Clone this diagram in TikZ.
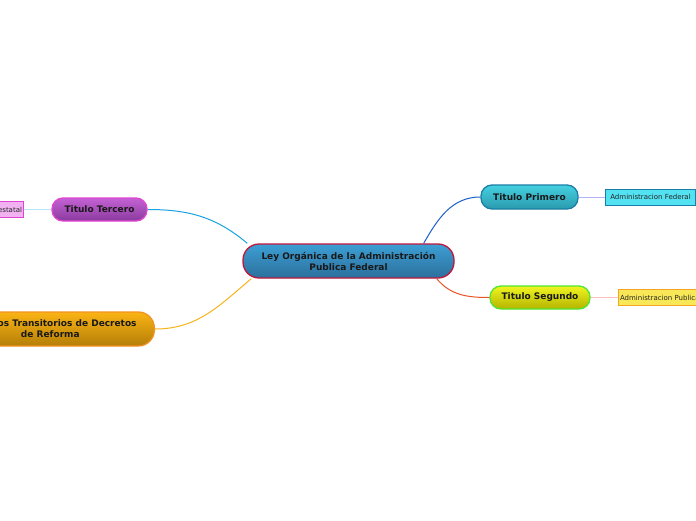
\documentclass[tikz,border=0pt]{standalone}
\usepackage{fontspec}
\setmainfont{DejaVu Sans}
\usepackage{xcolor}
\usetikzlibrary{calc}

% colores del mapa
\definecolor{rojoBorde}{HTML}{C0163C}
\definecolor{azulArriba}{HTML}{3C9FD4}
\definecolor{azulAbajo}{HTML}{2C6F9C}
\definecolor{cianArriba}{HTML}{45D0E0}
\definecolor{cianAbajo}{HTML}{2A9AAE}
\definecolor{cianBorde}{HTML}{1A7FA8}
\definecolor{cianHoja}{HTML}{52E2F2}
\definecolor{amaArriba}{HTML}{F0F420}
\definecolor{amaAbajo}{HTML}{B4B400}
\definecolor{verdeBorde}{HTML}{4FE632}
\definecolor{amaHoja}{HTML}{F8E858}
\definecolor{naranjaBorde}{HTML}{F5A524}
\definecolor{moradoArriba}{HTML}{C462D4}
\definecolor{moradoAbajo}{HTML}{8A3A9E}
\definecolor{magentaBorde}{HTML}{E244D2}
\definecolor{rosaHoja}{HTML}{F2B2F2}
\definecolor{oroArriba}{HTML}{FAB414}
\definecolor{oroAbajo}{HTML}{B47E08}
\definecolor{oroBorde}{HTML}{F39222}
% colores de las ramas
\definecolor{ramaAzul}{HTML}{1A5FC8}
\definecolor{ramaRoja}{HTML}{E8542A}
\definecolor{ramaCeleste}{HTML}{1AA2E0}
\definecolor{ramaOro}{HTML}{F8B41C}

\tikzset{
  tema/.style n args={3}{rounded corners=11pt, draw=#1, line width=1.3pt,
    top color=#2, bottom color=#3, align=center, inner sep=2pt,
    text=black!90, font=\fontsize{9}{11}\selectfont\bfseries},
  hoja/.style n args={2}{draw=#1, fill=#2, line width=1pt, inner sep=1.5pt,
    minimum height=16pt, text=black!85, font=\fontsize{7}{8}\selectfont},
  rama/.style={line width=1pt},
  ramita/.style={line width=0.8pt}
}

\begin{document}
\begin{tikzpicture}[x=1pt, y=-1pt]
  \useasboundingbox (0,0) rectangle (696,520);
  \fill[white] (0,0) rectangle (696,520);
  \clip (0,0) rectangle (696,520);

  % 1. Idea central
  \node[tema={rojoBorde}{azulArriba}{azulAbajo}, rounded corners=16pt,
        minimum width=211pt, minimum height=34pt] (ley) at (348.5,261)
        {Ley Orgánica de la Administración\\Publica Federal};

  % 2. Titulos
  \node[tema={cianBorde}{cianArriba}{cianAbajo}, minimum width=97pt,
        minimum height=24pt] (primero) at (529.5,197) {Titulo Primero};
  \node[tema={verdeBorde}{amaArriba}{amaAbajo}, minimum width=100pt,
        minimum height=23pt] (segundo) at (540,297.5) {Titulo Segundo};
  \node[tema={magentaBorde}{moradoArriba}{moradoAbajo}, minimum width=95pt,
        minimum height=23pt] (tercero) at (99.5,209.5) {Titulo Tercero};
  \node[tema={oroBorde}{oroArriba}{oroAbajo}, rounded corners=16pt,
        minimum width=208pt, minimum height=34pt, anchor=east] (transitorios)
        at (155,329) {Articulos Transitorios de Decretos\\de Reforma};

  % 3. Hojas
  \node[hoja={cianBorde}{cianHoja}, minimum width=90pt, anchor=west]
        (federal) at (605,197) {Administracion Federal};
  \node[hoja={naranjaBorde}{amaHoja}, anchor=west]
        (publica) at (618,297.5) {Administracion Publica Paraestatal};
  \node[hoja={magentaBorde}{rosaHoja}, anchor=east]
        (estatal) at (24,209.5) {Administracion Publica Paraestatal};

  % 4. Ramas desde la idea central
  \draw[rama, ramaAzul] ([xshift=-31pt]ley.north east)
        to[out=60, in=180] (primero.west);
  \draw[rama, ramaRoja] ([xshift=-18pt]ley.south east)
        to[out=-50, in=180] (segundo.west);
  \draw[rama, ramaCeleste] (tercero.east)
        to[out=0, in=140] ([xshift=5pt]ley.north west);
  \draw[rama, ramaOro] (transitorios.east)
        to[out=0, in=220] ([xshift=9pt]ley.south west);

  % 5. Ramitas hacia las hojas
  \draw[ramita, blue!30] (primero.east) -- (federal.west);
  \draw[ramita, red!25] (segundo.east) -- (publica.west);
  \draw[ramita, cyan!30] (tercero.west) -- (estatal.east);
\end{tikzpicture}
\end{document}
